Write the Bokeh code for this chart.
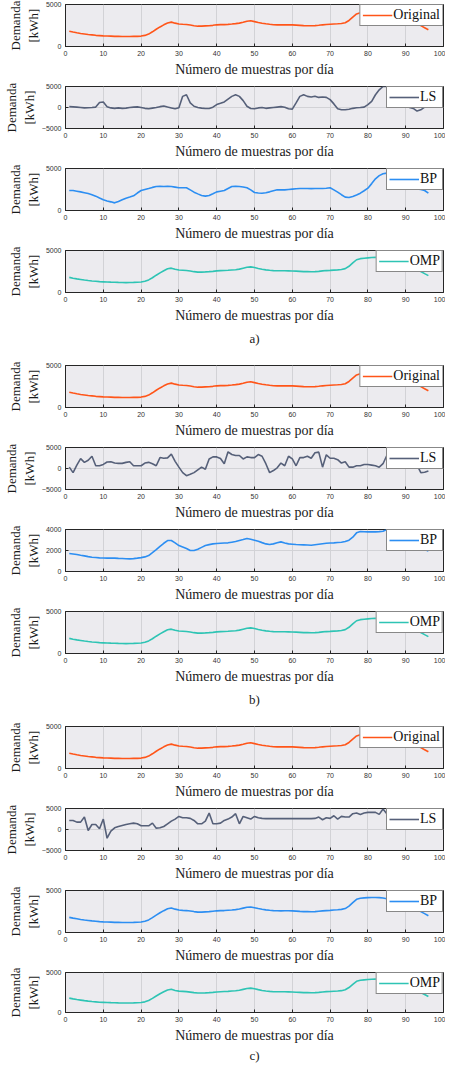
from bokeh.plotting import figure
from bokeh.layouts import column
from bokeh.models import FixedTicker, Title, Range1d
from bokeh.embed import file_html
from bokeh.resources import INLINE

# ---------------- data ----------------
muestras = list(range(1, 97))
x_ticks = [0, 10, 20, 30, 40, 50, 60, 70, 80, 90, 100]

original = [1820, 1720, 1630, 1550, 1490, 1430, 1380, 1330, 1300, 1270,
            1250, 1230, 1210, 1200, 1190, 1190, 1190, 1200, 1210, 1240,
            1320, 1480, 1750, 2050, 2330, 2580, 2800, 2900, 2780, 2680,
            2640, 2620, 2560, 2480, 2420, 2430, 2460, 2470, 2520, 2580,
            2600, 2610, 2630, 2670, 2720, 2780, 2880, 3000, 3060, 2960,
            2860, 2770, 2700, 2640, 2590, 2580, 2580, 2590, 2580, 2570,
            2550, 2520, 2490, 2470, 2470, 2490, 2530, 2580, 2610, 2640,
            2670, 2700, 2740, 2830, 3100, 3500, 3880, 4020, 4080, 4120,
            4150, 4160, 4150, 4100, 4000, 3850, 3700, 3550, 3400, 3300,
            3150, 2950, 2720, 2480, 2240, 2000]

omp = [1800, 1700, 1620, 1550, 1480, 1420, 1370, 1330, 1290, 1270,
       1250, 1230, 1220, 1200, 1190, 1180, 1190, 1200, 1220, 1250,
       1330, 1500, 1760, 2060, 2340, 2590, 2820, 2900, 2760, 2670,
       2640, 2610, 2550, 2480, 2430, 2430, 2450, 2480, 2520, 2570,
       2600, 2620, 2640, 2680, 2710, 2780, 2890, 3000, 3050, 2970,
       2860, 2760, 2690, 2640, 2600, 2590, 2590, 2590, 2580, 2560,
       2540, 2520, 2490, 2480, 2470, 2480, 2520, 2570, 2610, 2630,
       2660, 2690, 2730, 2840, 3120, 3520, 3900, 4030, 4080, 4120,
       4160, 4180, 4160, 4100, 4000, 3860, 3700, 3560, 3420, 3300,
       3160, 2960, 2740, 2500, 2250, 2010]

ls_a = [200, 150, 100, 0, -100, -50, 0, 100, 1200, 1300,
        200, -100, -200, -100, -200, -150, 0, 100, 150, 0,
        -200, -300, -150, 0, 200, 350, 100, -100, -300, -80,
        2650, 3040, 1090, 300, 0, -150, -230, -230, 80, 700,
        1000, 1330, 2000, 2650, 3040, 2650, 1640, 310, -230, -300,
        -100, 0, -200, -100, 0, 100, 200, 50, -300, -390,
        1090, 2650, 3040, 2650, 2500, 2700, 2400, 2500, 2420, 1870,
        860, -310, -550, -550, -400, -200, -50, 0, 100, 700,
        1480, 3040, 4200, 5000, 5100, 4500, 3500, 2500, 1500, 500,
        0, -230, -860, -550, 80, 700]

bp_a = [2380, 2380, 2300, 2220, 2120, 2020, 1880, 1710, 1480, 1270,
        1130, 1030, 910, 1070, 1280, 1470, 1600, 1750, 2080, 2380,
        2500, 2620, 2750, 2860, 2880, 2860, 2870, 2860, 2780, 2700,
        2700, 2700, 2450, 2180, 1980, 1790, 1710, 1790, 2000, 2220,
        2300, 2380, 2620, 2860, 2880, 2860, 2800, 2700, 2450, 2140,
        2080, 2060, 2120, 2220, 2340, 2460, 2460, 2460, 2500, 2540,
        2580, 2620, 2620, 2620, 2610, 2620, 2620, 2620, 2650, 2700,
        2450, 2180, 1880, 1590, 1550, 1670, 1850, 2060, 2350, 2660,
        3200, 3770, 4150, 4370, 4450, 4290, 4100, 3700, 3300, 3000,
        2860, 2660, 2560, 2500, 2380, 2060]

ls_b = [320, -980, 810, 2360, 1460, 1950, 2920, 650, 650, 970,
        1540, 1620, 1300, 1220, 1220, 1460, 1620, 650, 650, 650,
        1300, 1460, 1140, 650, 2600, 2440, 2520, 3410, 1700, 320,
        -980, -1700, -1380, -980, -330, 320, -160, 2270, 2760, 2760,
        2360, 1140, 3980, 3330, 3090, 3090, 2270, 2760, 2600, 2600,
        3330, 2920, 1140, -980, -490, 160, 1300, 650, 2920, 2270,
        650, 2600, 2600, 2920, 2440, 3740, 3900, 320, 3250, 2440,
        2440, 2110, 1300, 1620, 320, 320, 650, 650, 970, 970,
        810, 650, 320, 1140, 3090, 4390, 4550, 4000, 3000, 2500,
        2000, 1500, 800, -1000, -900, -600]

bp_b = [1710, 1670, 1620, 1550, 1490, 1420, 1360, 1330, 1300, 1280,
        1270, 1270, 1270, 1250, 1240, 1220, 1200, 1230, 1270, 1320,
        1390, 1520, 1800, 2090, 2400, 2690, 2950, 2950, 2730, 2470,
        2330, 2190, 2000, 2000, 2120, 2300, 2470, 2560, 2630, 2660,
        2690, 2710, 2730, 2790, 2850, 2950, 3040, 3140, 3070, 2980,
        2880, 2750, 2630, 2570, 2630, 2730, 2820, 2720, 2630, 2600,
        2570, 2550, 2540, 2520, 2500, 2550, 2600, 2650, 2690, 2710,
        2730, 2760, 2790, 2850, 2980, 3270, 3680, 3800, 3780, 3770,
        3770, 3770, 3800, 3840, 4000, 4090, 4150, 4150, 4100, 3900,
        3600, 3200, 2700, 2300, 2100, 1950]

ls_c = [2160, 2160, 1760, 1760, 2960, -240, 1200, 1200, 160, 2480,
        -2080, -400, 400, 720, 960, 1200, 1360, 1520, 1360, 880,
        880, 880, 1520, 320, 400, 720, 1360, 2000, 2480, 3120,
        2800, 2800, 2640, 2160, 1360, 1360, 2000, 3920, 1360, 1360,
        1520, 2160, 2480, 2960, 3760, 1360, 3120, 2800, 2480, 3120,
        2800, 2640, 2600, 2600, 2600, 2600, 2600, 2600, 2600, 2600,
        2600, 2600, 2600, 2600, 2600, 2640, 2960, 2320, 2800, 2640,
        3280, 2480, 3120, 2960, 2960, 3760, 3920, 3600, 3920, 4080,
        4080, 4080, 3600, 4880, 3760, 4560, 4200, 4000, 4300, 4100,
        4000, 4200, 4100, 3900, 4000, 4200]

bp_c = [1800, 1710, 1630, 1550, 1480, 1430, 1380, 1340, 1300, 1270,
        1250, 1230, 1210, 1200, 1190, 1190, 1190, 1200, 1220, 1250,
        1340, 1500, 1770, 2070, 2350, 2600, 2820, 2920, 2780, 2670,
        2630, 2610, 2560, 2490, 2430, 2420, 2450, 2480, 2530, 2580,
        2600, 2610, 2640, 2670, 2720, 2790, 2900, 3010, 3040, 2950,
        2850, 2760, 2690, 2640, 2600, 2590, 2580, 2590, 2590, 2570,
        2550, 2510, 2490, 2480, 2470, 2490, 2530, 2570, 2600, 2630,
        2670, 2700, 2750, 2850, 3140, 3560, 3950, 4080, 4120, 4150,
        4170, 4170, 4150, 4100, 4020, 3930, 3800, 3650, 3480, 3320,
        3150, 2960, 2730, 2490, 2250, 2000]

ticks_pos = [0, 5000]
ticks_sym = [-5000, 0, 5000]
ticks_4k = [0, 2000, 4000]

# ---------------- style ----------------
SERIF = "Liberation Serif"
SANS = "Liberation Sans"
C_ORIG = "#FF5519"
C_LS = "#566079"
C_BP = "#2C8EF2"
C_OMP = "#2EC4B4"
BG = "#ECEBEF"
GRID = "#D2D2D6"
EDGE = "#262626"
W = 445


def panel(y, name, color, yr, yticks, left, fw, height, group_label=None, title_standoff=6):
    top = 4
    bottom = height - top - 42
    p = figure(width=W, height=height, output_backend="svg", toolbar_location=None,
               x_range=Range1d(0, 100), y_range=Range1d(yr[0], yr[1]),
               min_border_left=left, min_border_right=W - left - fw,
               min_border_top=top, min_border_bottom=bottom)
    p.line(muestras, y, line_color=color, line_width=1.6, legend_label=name)
    p.background_fill_color = BG
    p.border_fill_color = "white"
    p.outline_line_color = EDGE
    p.outline_line_width = 1

    xa = p.xaxis[0]
    xa.ticker = FixedTicker(ticks=x_ticks)
    xa.axis_label = "Número de muestras por día"
    ya = p.yaxis[0]
    ya.ticker = FixedTicker(ticks=yticks)
    ya.axis_label = "Demanda\n[kWh]"
    for ax in (xa, ya):
        ax.axis_label_text_font = SERIF
        ax.axis_label_text_font_style = "normal"
        ax.axis_label_text_color = "#1A1A1A"
        ax.major_label_text_font = SANS
        ax.major_label_text_font_size = "7px"
        ax.major_label_text_color = "#333333"
        ax.major_tick_in = 3
        ax.major_tick_out = 0
        ax.minor_tick_line_color = None
        ax.axis_line_color = EDGE
        ax.major_tick_line_color = EDGE
    xa.axis_label_text_font_size = "14px"
    ya.axis_label_text_font_size = "13px"
    xa.major_label_standoff = 4
    xa.axis_label_standoff = 3
    ya.major_label_standoff = 4
    ya.axis_label_standoff = 2

    p.xgrid.grid_line_color = GRID
    p.ygrid.grid_line_color = GRID
    p.xgrid.grid_line_width = 1
    p.ygrid.grid_line_width = 1

    lg = p.legend[0]
    lg.location = "top_right"
    lg.margin = 0
    lg.padding = 2
    lg.spacing = 0
    lg.label_text_font = SERIF
    lg.label_text_font_size = "14px"
    lg.label_text_color = "#111111"
    lg.glyph_width = 30
    lg.glyph_height = 14
    lg.label_height = 14
    lg.label_standoff = 1
    lg.border_line_color = "#111111"
    lg.border_line_width = 1
    lg.background_fill_color = "white"
    lg.background_fill_alpha = 1

    if group_label:
        t = Title(text=group_label, align="center", text_font=SERIF,
                  text_font_size="13px", text_font_style="normal",
                  text_color="#1A1A1A", standoff=title_standoff)
        p.add_layout(t, "below")
    return p


figs = [
    panel(original, "Original", C_ORIG, (0, 5000), ticks_pos, 59, 385, 82),
    panel(ls_a, "LS", C_LS, (-5000, 5000), ticks_sym, 59, 385, 82),
    panel(bp_a, "BP", C_BP, (0, 5000), ticks_pos, 59, 385, 82),
    panel(omp, "OMP", C_OMP, (0, 5000), ticks_pos, 59, 385, 115, "a)"),
    panel(original, "Original", C_ORIG, (0, 5000), ticks_pos, 54, 389, 82),
    panel(ls_b, "LS", C_LS, (-5000, 5000), ticks_sym, 54, 389, 82),
    panel(bp_b, "BP", C_BP, (0, 4000), ticks_4k, 54, 389, 82),
    panel(omp, "OMP", C_OMP, (0, 5000), ticks_pos, 54, 389, 115, "b)"),
    panel(original, "Original", C_ORIG, (0, 5000), ticks_pos, 54, 389, 82),
    panel(ls_c, "LS", C_LS, (-5000, 5000), ticks_sym, 54, 389, 82),
    panel(bp_c, "BP", C_BP, (0, 5000), ticks_pos, 54, 389, 82),
    panel(omp, "OMP", C_OMP, (0, 5000), ticks_pos, 54, 389, 95, "c)", 1),
]

layout = column(*figs, spacing=0)
open("out.html", "w").write(file_html(layout, INLINE))
